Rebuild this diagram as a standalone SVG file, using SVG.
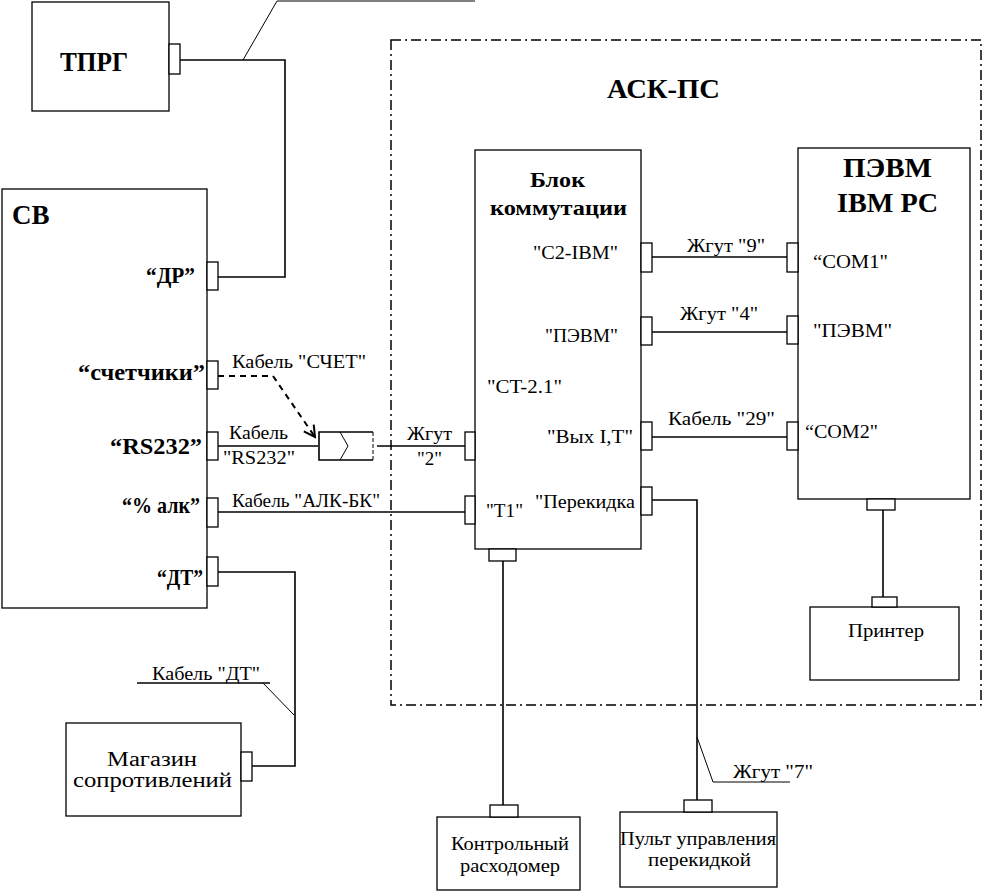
<svg xmlns="http://www.w3.org/2000/svg" width="984" height="892" viewBox="0 0 984 892">
<style>
.box{fill:none;stroke:#000;stroke-width:1.3}
.con{fill:#fff;stroke:#000;stroke-width:1.3}
.ln{fill:none;stroke:#000;stroke-width:1.6}
.thin{fill:none;stroke:#000;stroke-width:1}
.dash{fill:none;stroke:#000;stroke-width:2;stroke-dasharray:6,5}
.frame{fill:none;stroke:#000;stroke-width:1.5;stroke-dasharray:10,4,2,4}
</style>
<defs>
<marker id="arr" markerWidth="14" markerHeight="14" refX="12" refY="7" orient="auto" markerUnits="userSpaceOnUse">
<path d="M1,1 L12,7 L1,13" fill="none" stroke="#000" stroke-width="2"/>
</marker>
</defs>
<rect x="0" y="0" width="984" height="892" fill="#fff"/>

<g id="ask-ps">
<rect class="frame" x="391" y="40" width="590" height="665"/>
<text font-family="'Liberation Serif', serif" font-weight="bold" x="607" y="98" font-size="27" textLength="113" lengthAdjust="spacingAndGlyphs">АСК-ПС</text>
</g>

<g id="connectors">
<polyline class="ln" points="180,60 285,60 285,277 218,277"/>
<polyline class="thin" points="243,60 277,1 475,1"/>
<polyline class="dash" points="218,376 273,376 315,437" marker-end="url(#arr)"/>
<line class="ln" x1="218" y1="446" x2="318" y2="446"/>
<line class="ln" x1="377" y1="446" x2="465" y2="446"/>
<line class="ln" x1="218" y1="512" x2="465" y2="512"/>
<polyline class="ln" points="218,572 295,572 295,766 252,766"/>
<polyline class="thin" points="294,715 263,683"/>
<line class="ln" x1="137" y1="683" x2="270" y2="683"/>
<line class="ln" x1="652" y1="257" x2="787" y2="257"/>
<line class="ln" x1="652" y1="332" x2="787" y2="332" stroke-width="2.2"/>
<line class="ln" x1="652" y1="437" x2="787" y2="437"/>
<polyline class="ln" points="652,500 697,500 697,800"/>
<polyline class="thin" points="697,737 713,782 790,782"/>
<line class="ln" x1="503" y1="561" x2="503" y2="805"/>
<line class="ln" x1="883" y1="510" x2="883" y2="597"/>
<text font-family="'Liberation Serif', serif" font-size="19" x="232" y="368" textLength="134" lengthAdjust="spacingAndGlyphs">Кабель "СЧЕТ"</text>
<text font-family="'Liberation Serif', serif" font-size="19" x="229" y="439" textLength="59" lengthAdjust="spacingAndGlyphs">Кабель</text>
<text font-family="'Liberation Serif', serif" font-size="19" x="223" y="464" textLength="72" lengthAdjust="spacingAndGlyphs">"RS232"</text>
<text font-family="'Liberation Serif', serif" font-size="19" x="407" y="440" textLength="45" lengthAdjust="spacingAndGlyphs">Жгут</text>
<text font-family="'Liberation Serif', serif" font-size="19" x="417" y="465" textLength="25" lengthAdjust="spacingAndGlyphs">"2"</text>
<text font-family="'Liberation Serif', serif" font-size="19" x="232" y="507" textLength="148" lengthAdjust="spacingAndGlyphs">Кабель "АЛК-БК"</text>
<text font-family="'Liberation Serif', serif" font-size="19" x="152" y="680" textLength="108" lengthAdjust="spacingAndGlyphs">Кабель "ДТ"</text>
<text font-family="'Liberation Serif', serif" font-size="19" x="687" y="252" textLength="78" lengthAdjust="spacingAndGlyphs">Жгут "9"</text>
<text font-family="'Liberation Serif', serif" font-size="19" x="680" y="320" textLength="78" lengthAdjust="spacingAndGlyphs">Жгут "4"</text>
<text font-family="'Liberation Serif', serif" font-size="19" x="668" y="425" textLength="107" lengthAdjust="spacingAndGlyphs">Кабель "29"</text>
<text font-family="'Liberation Serif', serif" font-size="19" x="733" y="778" textLength="80" lengthAdjust="spacingAndGlyphs">Жгут "7"</text>
</g>

<g id="adapter">
<polyline class="ln" points="373,432 319,432 319,460 373,460"/>
<line class="thin" x1="373" y1="432" x2="373" y2="460" stroke-dasharray="4,2"/>
<polyline class="thin" points="340,432 348,446 340,460"/>
</g>

<g id="tprg">
<rect class="box" x="32" y="2" width="137" height="109"/>
<rect class="con" x="169" y="44" width="11" height="30"/>
<text font-family="'Liberation Serif', serif" font-weight="bold" x="60" y="71" font-size="28" textLength="68" lengthAdjust="spacingAndGlyphs">ТПРГ</text>
</g>

<g id="sv">
<rect class="box" x="2" y="189" width="205" height="419"/>
<rect class="con" x="207" y="262" width="11" height="28"/>
<rect class="con" x="207" y="361" width="11" height="28"/>
<rect class="con" x="207" y="432" width="11" height="28"/>
<rect class="con" x="207" y="498" width="11" height="29"/>
<rect class="con" x="207" y="557" width="11" height="29"/>
<text font-family="'Liberation Serif', serif" font-weight="bold" x="12" y="224" font-size="27">СВ</text>
<text font-family="'Liberation Serif', serif" font-weight="bold" font-size="24" x="146" y="283" textLength="49" lengthAdjust="spacingAndGlyphs">“ДР”</text>
<text font-family="'Liberation Serif', serif" font-weight="bold" font-size="24" x="78" y="380" textLength="127" lengthAdjust="spacingAndGlyphs">“счетчики”</text>
<text font-family="'Liberation Serif', serif" font-weight="bold" font-size="24" x="110" y="454" textLength="92" lengthAdjust="spacingAndGlyphs">“RS232”</text>
<text font-family="'Liberation Serif', serif" font-weight="bold" font-size="24" x="122" y="513" textLength="78" lengthAdjust="spacingAndGlyphs">“% алк”</text>
<text font-family="'Liberation Serif', serif" font-weight="bold" font-size="24" x="157" y="585" textLength="46" lengthAdjust="spacingAndGlyphs">“ДТ”</text>
</g>

<g id="magazin">
<rect class="box" x="66" y="723" width="175" height="93"/>
<rect class="con" x="241" y="752" width="11" height="29"/>
<text font-family="'Liberation Serif', serif" x="107" y="766" font-size="20" textLength="90" lengthAdjust="spacingAndGlyphs">Магазин</text>
<text font-family="'Liberation Serif', serif" x="73" y="787" font-size="20" textLength="159" lengthAdjust="spacingAndGlyphs">сопротивлений</text>
</g>

<g id="blok">
<rect class="box" x="475" y="150" width="166" height="399"/>
<rect class="con" x="465" y="432" width="10" height="28"/>
<rect class="con" x="465" y="496" width="10" height="28"/>
<rect class="con" x="641" y="243" width="11" height="29"/>
<rect class="con" x="641" y="317" width="11" height="28"/>
<rect class="con" x="641" y="422" width="11" height="28"/>
<rect class="con" x="641" y="487" width="11" height="28"/>
<rect class="con" x="489" y="549" width="27" height="12"/>
<text font-family="'Liberation Serif', serif" font-weight="bold" x="530" y="187" font-size="22" textLength="55" lengthAdjust="spacingAndGlyphs">Блок</text>
<text font-family="'Liberation Serif', serif" font-weight="bold" x="490" y="215" font-size="22" textLength="137" lengthAdjust="spacingAndGlyphs">коммутации</text>
<text font-family="'Liberation Serif', serif" font-size="19" x="533" y="259" textLength="85" lengthAdjust="spacingAndGlyphs">"C2-IBM"</text>
<text font-family="'Liberation Serif', serif" font-size="19" x="545" y="342" textLength="73" lengthAdjust="spacingAndGlyphs">"ПЭВМ"</text>
<text font-family="'Liberation Serif', serif" font-size="19" x="487" y="393" textLength="75" lengthAdjust="spacingAndGlyphs">"CT-2.1"</text>
<text font-family="'Liberation Serif', serif" font-size="19" x="547" y="443" textLength="86" lengthAdjust="spacingAndGlyphs">"Вых I,T"</text>
<text font-family="'Liberation Serif', serif" font-size="19" x="535" y="508" textLength="100" lengthAdjust="spacingAndGlyphs">"Перекидка</text>
<text font-family="'Liberation Serif', serif" font-size="19" x="486" y="517" textLength="37" lengthAdjust="spacingAndGlyphs">"T1"</text>
</g>

<g id="pevm">
<rect class="box" x="798" y="148" width="172" height="351"/>
<rect class="con" x="787" y="243" width="11" height="29"/>
<rect class="con" x="787" y="316" width="11" height="28"/>
<rect class="con" x="787" y="422" width="11" height="28"/>
<rect class="con" x="867" y="499" width="28" height="11"/>
<text font-family="'Liberation Serif', serif" font-weight="bold" x="843" y="177" font-size="27" textLength="89" lengthAdjust="spacingAndGlyphs">ПЭВМ</text>
<text font-family="'Liberation Serif', serif" font-weight="bold" x="837" y="212" font-size="27" textLength="101" lengthAdjust="spacingAndGlyphs">IBM PC</text>
<text font-family="'Liberation Serif', serif" font-size="19" x="813" y="268" textLength="75" lengthAdjust="spacingAndGlyphs">“COM1"</text>
<text font-family="'Liberation Serif', serif" font-size="19" x="813" y="337" textLength="79" lengthAdjust="spacingAndGlyphs">"ПЭВМ"</text>
<text font-family="'Liberation Serif', serif" font-size="19" x="805" y="438" textLength="73" lengthAdjust="spacingAndGlyphs">“COM2"</text>
</g>

<g id="printer">
<rect class="box" x="810" y="607" width="149" height="73"/>
<rect class="con" x="872" y="597" width="25" height="10"/>
<text font-family="'Liberation Serif', serif" font-size="19" x="848" y="637" textLength="76" lengthAdjust="spacingAndGlyphs">Принтер</text>
</g>

<g id="kontrol">
<rect class="box" x="437" y="817" width="143" height="73"/>
<rect class="con" x="490" y="805" width="28" height="12"/>
<text font-family="'Liberation Serif', serif" font-size="19" x="451" y="850" textLength="118" lengthAdjust="spacingAndGlyphs">Контрольный</text>
<text font-family="'Liberation Serif', serif" font-size="19" x="460" y="872" textLength="100" lengthAdjust="spacingAndGlyphs">расходомер</text>
</g>

<g id="pult">
<rect class="box" x="620" y="812" width="157" height="75"/>
<rect class="con" x="684" y="800" width="28" height="12"/>
<text font-family="'Liberation Serif', serif" x="620" y="845" font-size="18" textLength="156" lengthAdjust="spacingAndGlyphs">Пульт управления</text>
<text font-family="'Liberation Serif', serif" x="648" y="866" font-size="18" textLength="103" lengthAdjust="spacingAndGlyphs">перекидкой</text>
</g>
</svg>
